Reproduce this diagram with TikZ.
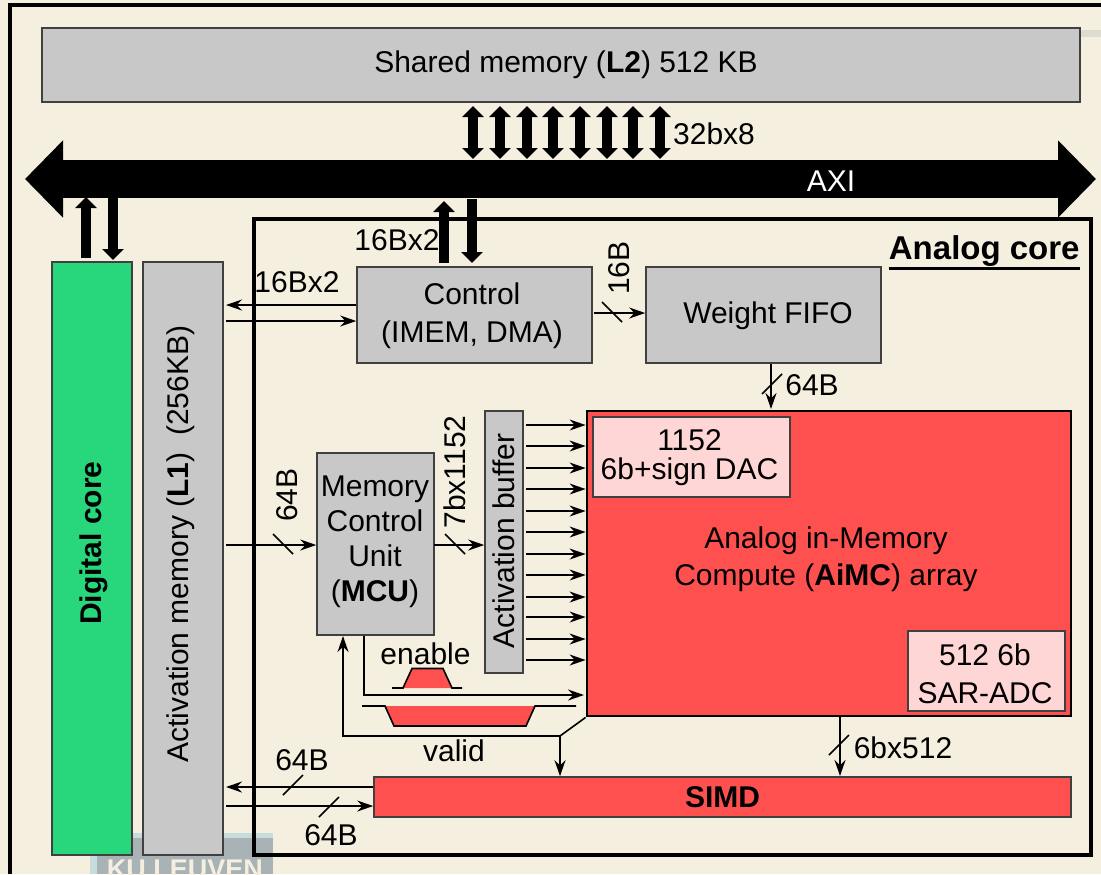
\documentclass[tikz,border=0pt]{standalone}
\usepackage{fontspec}
\setmainfont{Liberation Sans}
\usepackage{xcolor}
\usetikzlibrary{arrows.meta, positioning}
\definecolor{PaperCream}{HTML}{F5EFE0}
\definecolor{BlockGray}{HTML}{C8C8C8}
\definecolor{CoreGreen}{HTML}{28D67C}
\definecolor{ArrayRed}{HTML}{FF5050}
\definecolor{PeriphPink}{HTML}{FFD6D6}
\definecolor{LogoPale}{HTML}{C8DCDC}
\definecolor{LogoGray}{HTML}{A9B3B6}
\newcommand{\labelsize}{\fontsize{15}{17.5}\selectfont}

\begin{document}
\begin{tikzpicture}[
    x=0.5pt, y=-0.5pt,
    every node/.style={font=\labelsize, inner sep=0pt, align=center},
    block/.style={rectangle, draw=black!75, line width=0.8pt, fill=#1},
    block/.default=BlockGray,
    wire/.style={-{Stealth[length=8pt,width=5.5pt]}, line width=0.8pt},
    plainwire/.style={line width=0.8pt},
    tick/.style={line width=0.8pt},
    busarrow/.style={line width=5pt, -{Triangle[length=5.5pt,width=10.5pt]}},
    dualarrow/.style={line width=5pt, {Triangle[length=5.5pt,width=10.5pt]}-{Triangle[length=5.5pt,width=10.5pt]}},
    axibus/.style={line width=19pt, {Triangle[length=19pt,width=37.5pt]}-{Triangle[length=19pt,width=37.5pt]}}
]
\useasboundingbox (0,0) rectangle (1101,874);

% backdrop
\fill[PaperCream] (0,0) rectangle (1101,874);
\fill[black!8!PaperCream!85!LogoPale] (1080,30) rectangle (1101,37);
\begin{scope}
\clip (0,0) rectangle (1101,874);
\fill[LogoPale] (90,833) rectangle (273,874);
\fill[LogoGray] (97,838) rectangle (273,874);
\node[text=PaperCream, font=\fontsize{13.5}{16}\selectfont\bfseries] (logo) at (185,869) {KU LEUVEN};
\end{scope}
\draw[line width=2pt] (10,874) -- (10,5) -- (1101,5);

% blocks
\node[rectangle, draw, line width=2pt, minimum width=418.5pt, minimum height=318pt] (analog) at (672.5,537) {};
\node[anchor=east, font=\fontsize{16.5}{19}\selectfont\bfseries] (analoglabel) at (1080,251) {Analog core};
\draw[line width=1.3pt] ([yshift=-0.8pt]analoglabel.south west) -- ([yshift=-0.8pt]analoglabel.south east);
\node[block, minimum width=519pt, minimum height=37pt] (l2) at (561,65) {};
\node (l2text) at (566,65) {Shared memory (\textbf{L2}) 512 KB};
\node[block=CoreGreen, minimum width=40pt, minimum height=296.5pt] (digital) at (92,558.5) {};
\node[rotate=90, font=\labelsize\bfseries] (digitaltext) at (94,543) {Digital core};
\node[block, minimum width=40pt, minimum height=296.5pt] (l1) at (183,558.5) {};
\node[rotate=90] (l1text) at (181,544) {Activation memory (\textbf{L1})\ \ (256KB)};
\node[block, minimum width=117.5pt, minimum height=48pt] (control) at (474.5,315) {};
\node (controltext) at (472,316) {Control\\[1.5pt](IMEM, DMA)};
\node[block, minimum width=117.5pt, minimum height=48pt] (fifo) at (763.5,315) {};
\node (fifotext) at (768,316) {Weight FIFO};
\node[block=ArrayRed, draw=black, line width=1.4pt, minimum width=242pt, minimum height=152.5pt] (aimc) at (829,563.5) {};
\node (aimctext) at (826,559) {Analog in-Memory\\[1pt]Compute (\textbf{AiMC}) array};
\node[block=PeriphPink, minimum width=98.5pt, minimum height=40pt] (dac) at (691.5,457) {};
\node (dactext) at (689.5,458) {1152\\[-3pt]6b+sign DAC};
\node[block=PeriphPink, minimum width=78.5pt, minimum height=40pt] (adc) at (986.5,671) {};
\node (adctext) at (985,674) {512 6b\\[1.5pt]SAR-ADC};
\node[block, minimum width=19pt, minimum height=131pt] (buffer) at (504,542) {};
\node[rotate=90] (buffertext) at (504,541) {Activation buffer};
\node[block, minimum width=58.5pt, minimum height=91pt] (mcu) at (375.5,544) {};
\node (mcutext) at (375,541.5) {Memory\\Control\\Unit\\(\textbf{MCU})};
\node[block=ArrayRed, minimum width=348.5pt, minimum height=20pt, font=\labelsize\bfseries] (simd) at (722.5,797) {SIMD};

% AXI bus and the wide links
\coordinate (axileft) at (25,179);
\coordinate (axiright) at (1096,179);
\draw[axibus] (axileft) -- (axiright);
\node[text=white] (axitext) at (831,181) {AXI};
\foreach \x in {473,500,527,553,580,607,633,660}{
    \coordinate (memtop\x) at (\x,106);
    \coordinate (membot\x) at (\x,159);
    \draw[dualarrow] (memtop\x) -- (membot\x);
}
\coordinate (digup) at (86,197);
\coordinate (digdown) at (113,198);
\coordinate (ctrlup) at (444,201);
\coordinate (ctrldown) at (472,199);
\draw[busarrow] (digital.north -| digup) ++(0,-3) -- (digup);
\draw[busarrow] (digdown) -- ++(0,62);
\draw[busarrow] (control.north -| ctrlup) ++(0,-3) -- (ctrlup);
\draw[busarrow] (ctrldown) -- ++(0,64);

% thin wires
\coordinate (ctrlout) at (226,305);
\coordinate (ctrlin) at (226,321);
\coordinate (mcuin) at (226,545);
\coordinate (simdout) at (226,787);
\coordinate (simdin) at (226,806);
\draw[wire] (control.west |- ctrlout) -- (ctrlout);
\draw[wire] (ctrlin) -- (control.west |- ctrlin);
\draw[wire] (mcuin) -- (mcu.west |- mcuin);
\draw[wire] (simd.west |- simdout) -- (simdout);
\draw[wire] (simdin) -- (simd.west |- simdin);
\coordinate (fifoin) at (594,313);
\draw[wire] (fifoin) -- (fifo.west |- fifoin);
\coordinate (aimcin) at (771,409);
\draw[wire] (fifo.south -| aimcin) -- (aimcin);
\coordinate (bufferin) at (434,545);
\draw[wire] (bufferin) -- (buffer.west |- bufferin);
\foreach \y in {425,446,468,489,511,532,554,575,597,617,639,660}{
    \coordinate (act\y) at (526,\y);
    \draw[wire] (act\y) -- (aimc.west |- act\y);
}
\coordinate (enbend) at (364,695);
\coordinate (enend) at (584,695);
\draw[wire] (mcu.south -| enbend) |- (enend);
\coordinate (validbend) at (560,736);
\coordinate (validup) at (343,636);
\draw[wire] (aimc.south west) -- (validbend) -| (validup);
\draw[wire] (validbend) -- (simd.north -| validbend);
\coordinate (simdtop) at (840,776);
\draw[wire] (aimc.south -| simdtop) -- (simdtop);

% bus width ticks
\foreach \x/\y in {612/312, 283/544, 455/544}{\draw[tick] (\x-10,\y-10) -- (\x+10,\y+10);}
\foreach \x/\y in {772/384, 839/745, 293/785, 329/807}{\draw[tick] (\x-10,\y+10) -- (\x+10,\y-10);}

% enable and valid pulses
\fill[ArrayRed] (403,688) -- (412,668.5) -- (443,668.5) -- (452,688) -- cycle;
\draw[plainwire] (392,688) -- (403,688) -- (412,668.5) -- (443,668.5) -- (452,688) -- (462,688);
\fill[ArrayRed] (385,706) -- (394,726) -- (526,726) -- (535,706) -- cycle;
\draw[plainwire] (362,706) -- (385,706) -- (394,726) -- (526,726) -- (535,706) -- (576,706);

% labels
\node (memlabel) at (714,134) {32bx8};
\node (ctrlaxilabel) at (397,240) {16Bx2};
\node (ctrll1label) at (297,282) {16Bx2};
\node[rotate=90] (fifolabel) at (619,268) {16B};
\node (aimclabel) at (812,385) {64B};
\node[rotate=90] (mcuinlabel) at (287,495) {64B};
\node[rotate=90] (bufferlabel) at (455,472) {7bx1152};
\node (enablelabel) at (425.5,654) {enable};
\node (validlabel) at (454,751) {valid};
\node (simdlabel) at (903,748) {6bx512};
\node (simdoutlabel) at (302,760) {64B};
\node (simdinlabel) at (331,835) {64B};

\end{tikzpicture}
\end{document}
